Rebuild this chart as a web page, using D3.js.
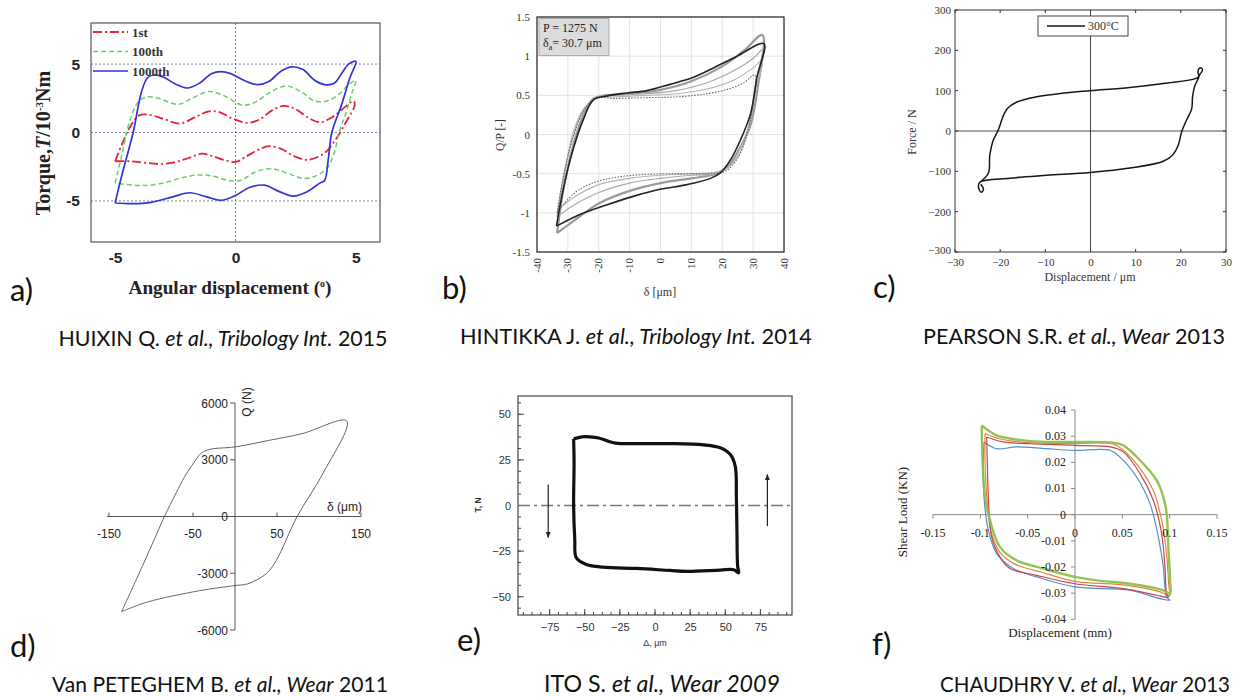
<!DOCTYPE html>
<html><head><meta charset="utf-8">
<script src="https://cdn.jsdelivr.net/npm/d3@7"></script>
<style>body{margin:0;background:#fff}</style>
</head><body><svg id="c" width="1242" height="697"></svg>
<script>
// ---------------- DATA ----------------
// a) torque vs angular displacement
const aXTicks = [-5, 0, 5];
const aYTicks = [-5, 0, 5];
const aLegend = ["1st", "100th", "1000th"];
const a1st = [[-5,-2.1],[-4.7,-0.8],[-4.35,0.5],[-4.0,1.25],[-3.6,1.3],[-3.0,1.0],[-2.3,0.65],[-1.7,1.1],[-1.1,1.55],[-0.7,1.5],[-0.1,1.0],[0.5,0.7],[1.0,0.95],[1.5,1.6],[2.0,1.95],[2.5,1.7],[3.0,1.1],[3.5,0.75],[4.0,1.1],[4.5,1.8],[4.9,2.3],
  [4.95,2.0],[4.6,0.8],[4.2,-0.4],[3.7,-1.5],[3.0,-2.0],[2.4,-1.7],[1.9,-1.2],[1.4,-1.0],[0.9,-1.3],[0.4,-1.8],[0,-2.15],[-0.5,-2.0],[-1.0,-1.7],[-1.4,-1.55],[-2.0,-1.9],[-2.6,-2.2],[-3.2,-2.3],[-3.8,-2.2],[-4.4,-2.1],[-5,-2.1]];
const a100th = [[-5,-3.7],[-4.7,-1.5],[-4.4,0.8],[-4.05,2.2],[-3.7,2.6],[-3.2,2.5],[-2.4,2.05],[-1.8,2.5],[-1.1,3.0],[-0.5,2.7],[0.3,2.0],[0.8,2.2],[1.5,3.0],[2.1,3.4],[2.7,3.0],[3.3,2.3],[3.8,2.3],[4.3,2.8],[4.7,3.5],[5.0,3.8],
  [4.85,3.0],[4.6,1.5],[4.3,0],[4.1,-1.5],[3.8,-2.6],[3.3,-3.2],[2.8,-3.35],[2.2,-3.0],[1.5,-2.65],[0.8,-2.9],[0.2,-3.5],[-0.3,-3.5],[-0.9,-3.2],[-1.5,-3.1],[-2.2,-3.3],[-2.8,-3.6],[-3.5,-3.85],[-4.2,-3.85],[-5,-3.7]];
const a1000th = [[-5,-5.15],[-4.7,-3],[-4.25,0],[-3.9,3.0],[-3.65,4.0],[-3.4,4.2],[-3.0,4.05],[-2.5,3.55],[-2.0,3.25],[-1.5,3.6],[-1.0,4.3],[-0.6,4.45],[-0.2,4.3],[0.3,3.85],[0.9,3.5],[1.4,3.75],[1.9,4.5],[2.35,4.8],[2.8,4.6],[3.3,3.8],[3.7,3.5],[4.1,3.6],[4.4,4.3],[4.7,5.0],[5.0,5.2],
  [4.75,4.0],[4.4,2.0],[4.0,0],[3.85,-2.0],[3.7,-3.5],[3.5,-3.7],[3.0,-4.3],[2.4,-4.65],[1.8,-4.3],[1.2,-3.85],[0.6,-4.0],[0,-4.6],[-0.6,-4.95],[-1.2,-4.7],[-1.9,-4.4],[-2.6,-4.7],[-3.5,-5.1],[-4.3,-5.2],[-5,-5.15]];

// b) Q/P vs delta
const bXTicks = [-40,-30,-20,-10,0,10,20,30,40];
const bYTicks = [-1.5,-1,-0.5,0,0.5,1,1.5];
const bBlack = [[-33.7,-1.17],[-31.5,-0.7],[-28.3,-0.19],[-25,0.19],[-21.8,0.44],[-17.5,0.49],[-11,0.53],[-4.4,0.56],[3.1,0.64],[10.7,0.73],[17.2,0.85],[24.8,1.0],[33.5,1.16],
  [31.3,0.74],[29.2,0.27],[25.9,-0.07],[22.7,-0.32],[19.4,-0.49],[16.2,-0.56],[8.6,-0.64],[-0.1,-0.7],[-8.8,-0.79],[-17.5,-0.9],[-26.1,-1.02],[-33.7,-1.17]];
const bGray1 = [[-33.5,-1.26],[-31,-0.6],[-28,-0.1],[-25,0.25],[-22,0.45],[-18,0.5],[-10,0.52],[0,0.57],[10,0.68],[20,0.87],[27,1.07],[33,1.27],
  [31.5,0.6],[29,0.1],[26,-0.15],[22,-0.4],[18,-0.5],[10,-0.56],[0,-0.62],[-10,-0.72],[-20,-0.88],[-28,-1.1],[-33.5,-1.26]];
const bGray2 = [[-33.5,-1.05],[-31.5,-0.55],[-28.5,-0.05],[-25,0.3],[-21,0.47],[-15,0.5],[-5,0.52],[5,0.56],[15,0.66],[24,0.82],[30,0.97],[33,1.08],
  [31,0.7],[28.5,0.1],[25.5,-0.2],[22,-0.42],[18,-0.5],[10,-0.52],[0,-0.56],[-10,-0.62],[-20,-0.74],[-28,-0.9],[-33.5,-1.05]];
const bGray3 = [[-33,-0.95],[-31,-0.5],[-28.5,0],[-25,0.32],[-21,0.47],[-15,0.48],[-5,0.5],[5,0.52],[15,0.58],[24,0.7],[30,0.85],[33,0.95],
  [31,0.6],[28.5,0.05],[25.5,-0.25],[22,-0.42],[18,-0.48],[10,-0.5],[0,-0.52],[-10,-0.56],[-20,-0.64],[-28,-0.8],[-33,-0.95]];
const bDotted = [[-33.5,-1.0],[-31,-0.45],[-28,0],[-25,0.3],[-21,0.46],[-15,0.46],[-5,0.47],[5,0.48],[15,0.52],[22,0.58],[27,0.66],[30.5,0.76],
  [30,0.4],[28,0],[25,-0.3],[21,-0.47],[15,-0.5],[5,-0.5],[-5,-0.51],[-15,-0.55],[-22,-0.62],[-28,-0.75],[-33.5,-1.0]];

// c) force vs displacement 300°C
const cXTicks = [-30,-20,-10,0,10,20,30];
const cYTicks = [-300,-200,-100,0,100,200,300];
const cLoop = [[-24.5,-127],[-22.6,-104],[-22.3,-60],[-21.6,-25],[-20.4,3],[-19.3,38],[-18.4,56],[-16.3,72],[-11.9,85],[-6,94],[-0.1,100],[8.7,108],[16.1,118],[23.5,131],[24.2,140],[24.8,152],[24.3,157],[23.8,148],[24.0,135],
  [23.1,112],[22.6,85],[22.4,55],[21.3,28],[20.2,-1],[19.4,-36],[18.3,-58],[16.1,-75],[8.7,-92],[-0.1,-103],[-9.7,-110],[-17.8,-117],[-24.5,-127],[-24.8,-140],[-24.2,-152],[-23.7,-145],[-24.3,-132]];

// d) Q vs delta
const dXTicks = [-150,-50,50,150];
const dYTicks = [-6000,-3000,0,3000,6000];
const dLoop = [[-135,-5030],[-110,-2600],[-95,-1100],[-84,0],[-70,1250],[-60,2100],[-52,2650],[-40,3350],[-30,3550],[0,3680],[40,4020],[80,4380],[133,5050],
  [105,2300],[74,0],[49,-2330],[37,-3030],[15,-3560],[0,-3650],[-42,-3920],[-105,-4530],[-135,-5030]];

// e) T vs Delta
const eXTicks = [-75,-50,-25,0,25,50,75];
const eYTicks = [-50,-25,0,25,50];
const eLoop = [[-57.9,36.5],[-52,37.6],[-46.4,37.6],[-40,37.0],[-34,35.4],[-28,34.2],[-13.1,33.9],[10.7,33.9],[34.5,33.2],[46.4,31.6],[53.6,27.9],[57.1,21.5],[57.9,5.1],[58.3,-13.1],[58.8,-33.2],[59.5,-36.9],
  [56,-35.2],[46.4,-35.4],[22.6,-36.1],[10.7,-35.6],[-13.1,-34.5],[-36.9,-33.8],[-48.8,-32.3],[-56,-28.6],[-57.1,-18.6],[-57.9,-0.4],[-57.6,23.4],[-57.9,36.5]];
const eArrows = [[-76, 11.5, -17.5], [80, -11.3, 17]];

// f) shear load vs displacement
const fXTicks = [-0.15,-0.1,-0.05,0,0.05,0.1,0.15];
const fYTicks = [-0.04,-0.03,-0.02,-0.01,0,0.01,0.02,0.03,0.04];
const fBlue = [[-0.0961,0.0278],[-0.0827,0.0252],[-0.0616,0.0259],[-0.03,0.0252],[0,0.0246],[0.037,0.0246],[0.0475,0.022],[0.0651,0.0144],[0.0792,0.0042],[0.088,-0.0085],[0.0933,-0.02],[0.0968,-0.0315],[0.1004,-0.0327],
  [0.0898,-0.0321],[0.058,-0.0289],[0,-0.0276],[-0.0405,-0.0238],[-0.0651,-0.0206],[-0.0827,-0.0149],[-0.0915,-0.006],[-0.0961,0.0068],[-0.0968,0.0195],[-0.0961,0.0278]];
const fRed = [[-0.0933,0.0297],[-0.0757,0.0278],[-0.0475,0.0271],[0,0.0265],[0.037,0.0259],[0.051,0.024],[0.0687,0.0157],[0.0827,0.0055],[0.0915,-0.0073],[0.095,-0.02],[0.0968,-0.0302],[0.0986,-0.0315],
  [0.0863,-0.0308],[0.051,-0.0283],[0,-0.0264],[-0.0405,-0.0232],[-0.0687,-0.0206],[-0.0792,-0.0162],[-0.088,-0.0085],[-0.0915,0.0068],[-0.0926,0.0195],[-0.0933,0.0297]];
const fOrange = [[-0.095,0.031],[-0.08,0.029],[-0.05,0.0275],[0,0.0272],[0.04,0.027],[0.05,0.025],[0.068,0.018],[0.083,0.009],[0.092,-0.003],[0.097,-0.016],[0.099,-0.027],[0.1,-0.031],
  [0.09,-0.0295],[0.055,-0.027],[0,-0.0255],[-0.035,-0.022],[-0.063,-0.019],[-0.08,-0.014],[-0.089,-0.006],[-0.093,0.006],[-0.095,0.02],[-0.095,0.031]];
const fGreen = [[-0.0986,0.0341],[-0.0827,0.0303],[-0.0546,0.0284],[-0.03,0.0278],[0,0.0278],[0.0405,0.0275],[0.051,0.0265],[0.0687,0.0208],[0.0863,0.0131],[0.0933,0.0068],[0.0968,0.0004],[0.0986,-0.0124],[0.1004,-0.0251],[0.1004,-0.0302],
  [0.0933,-0.0289],[0.058,-0.0264],[0.0229,-0.0251],[0,-0.0238],[-0.0335,-0.0206],[-0.0616,-0.0175],[-0.0792,-0.0124],[-0.0898,-0.0022],[-0.0951,0.0068],[-0.0975,0.0195],[-0.0986,0.0341]];

// captions: [normal, italic, normal]
const captions = [
  ["HUIXIN Q. ", "et al., Tribology Int.", " 2015"],
  ["HINTIKKA J. ", "et al., Tribology Int.", " 2014"],
  ["PEARSON S.R. ", "et al., Wear", " 2013"],
  ["Van PETEGHEM B. ", "et al., Wear", " 2011"],
  ["ITO S. ", "et al., Wear 2009", ""],
  ["CHAUDHRY V. ", "et al., Wear", " 2013"]
];
const panelLetters = ["a)", "b)", "c)", "d)", "e)", "f)"];

// ---------------- DRAW ----------------
const svg = d3.select("#c");
svg.append("rect").attr("width",1242).attr("height",697).attr("fill","#fff");
const defs = svg.append("defs");
defs.append("marker").attr("id","arr").attr("viewBox","0 0 10 10").attr("refX",9).attr("refY",5)
  .attr("markerWidth",5).attr("markerHeight",6).attr("orient","auto")
  .append("path").attr("d","M0,1 L10,5 L0,9 Z").attr("fill","#222");

const CR = d3.curveCatmullRom.alpha(0.5);
const mkLine = (sx, sy) => d3.line().x(d => sx(d[0])).y(d => sy(d[1])).curve(CR);
const SERIF = "'Liberation Serif','Times New Roman',serif";
const SANS = "'Liberation Sans',Arial,sans-serif";
const CAL = "Lato,'Open Sans',sans-serif";
const hy = d => String(d);
const um = d => d < 0 ? "\u2212" + Math.abs(d) : String(d);
function fitWidth(t, w) {
  const fs = parseFloat(t.attr("font-size"));
  const len = t.node().getComputedTextLength();
  t.attr("font-size", fs * w / len);
}

function styleAxis(g, fam, size, weight, color) {
  g.attr("font-family", fam).attr("font-size", size).attr("font-weight", weight || "normal");
  g.selectAll("text").attr("fill", color || "#222");
  g.select(".domain").remove();
}

// ===== a =====
{
  const x = d3.scaleLinear().domain([-6,6]).range([91,380]);
  const y = d3.scaleLinear().domain([-8,8]).range([242,23]);
  const g = svg.append("g");
  g.selectAll(".gh").data(aYTicks).join("line")
    .attr("x1",x(-6)).attr("x2",x(6)).attr("y1",d=>y(d)).attr("y2",d=>y(d))
    .attr("stroke","#6d6da8").attr("stroke-width",0.9).attr("stroke-dasharray","2,2");
  g.append("line").attr("x1",x(0)).attr("x2",x(0)).attr("y1",y(8)).attr("y2",y(-8))
    .attr("stroke","#6d6d88").attr("stroke-width",0.9).attr("stroke-dasharray","2,2");
  const series = [
    {d:a1st, c:"#e3223c", dash:"9,3,2,3", w:1.8},
    {d:a100th, c:"#66d066", dash:"5,3", w:1.5},
    {d:a1000th, c:"#3434d6", dash:null, w:1.7}
  ];
  const ln = mkLine(x,y);
  g.selectAll(".s").data(series).join("path").attr("d",s=>ln(s.d)).attr("fill","none")
    .attr("stroke",s=>s.c).attr("stroke-width",s=>s.w).attr("stroke-dasharray",s=>s.dash);
  g.append("rect").attr("x",x(-6)).attr("y",y(8)).attr("width",x(6)-x(-6)).attr("height",y(-8)-y(8))
    .attr("fill","none").attr("stroke","#555").attr("stroke-width",1.2);
  // legend
  const lg = g.selectAll(".lg").data(series).join("g").attr("transform",(s,i)=>`translate(93,${32+i*19.5})`);
  lg.append("line").attr("x1",0).attr("x2",35).attr("stroke",s=>s.c).attr("stroke-width",s=>s.w).attr("stroke-dasharray",s=>s.dash);
  lg.append("text").attr("x",39).attr("y",4.5).text((s,i)=>aLegend[i]).attr("font-family",SERIF)
    .attr("font-weight","bold").attr("font-size",13).attr("fill","#333");
  g.append("g").attr("transform",`translate(${x(-6)},0)`)
    .call(d3.axisLeft(y).tickValues(aYTicks).tickSize(0).tickPadding(11).tickFormat(hy))
    .call(s=>styleAxis(s,SANS,15.5,"bold","#222"));
  g.append("g").attr("transform",`translate(0,${y(-8)})`)
    .call(d3.axisBottom(x).tickValues(aXTicks).tickSize(0).tickPadding(10).tickFormat(hy))
    .call(s=>styleAxis(s,SANS,15.5,"bold","#222"));
  const xt = g.append("text").attr("x",230).attr("y",294).attr("text-anchor","middle")
    .attr("font-family",SERIF).attr("font-weight","bold").attr("font-size",16).attr("fill","#222");
  xt.append("tspan").text("Angular displacement (");
  xt.append("tspan").attr("dy",-7).attr("font-size",10).text("o");
  xt.append("tspan").attr("dy",7).text(")");
  fitWidth(xt, 204);
  const yt = g.append("text").attr("transform","translate(50,143) rotate(-90)").attr("text-anchor","middle")
    .attr("font-family",SERIF).attr("font-weight","bold").attr("font-size",16).attr("fill","#222");
  yt.append("tspan").text("Torque,");
  yt.append("tspan").attr("font-style","italic").text("T");
  yt.append("tspan").text("/10");
  yt.append("tspan").attr("dy",-7).attr("font-size",11).text("-3");
  yt.append("tspan").attr("dy",7).text("Nm");
  fitWidth(yt, 147);
}

// ===== b =====
{
  const x = d3.scaleLinear().domain([-40,40]).range([537,784]);
  const y = d3.scaleLinear().domain([-1.5,1.5]).range([252,17]);
  const g = svg.append("g");
  g.selectAll(".gv").data(bXTicks).join("line").attr("x1",d=>x(d)).attr("x2",d=>x(d)).attr("y1",y(1.5)).attr("y2",y(-1.5))
    .attr("stroke","#e4e4e4").attr("stroke-width",1);
  g.selectAll(".gh").data(bYTicks).join("line").attr("y1",d=>y(d)).attr("y2",d=>y(d)).attr("x1",x(-40)).attr("x2",x(40))
    .attr("stroke","#e4e4e4").attr("stroke-width",1);
  const ln = mkLine(x,y);
  [[bGray1,"#9a9a9a",2.2],[bGray2,"#a8a8a8",1.2],[bGray3,"#b4b4b4",1.1]].forEach(([d,c,w])=>{
    g.append("path").attr("d",ln(d)).attr("fill","none").attr("stroke",c).attr("stroke-width",w);
  });
  g.append("path").attr("d",ln(bDotted)).attr("fill","none").attr("stroke","#666").attr("stroke-width",1.1).attr("stroke-dasharray","1.5,1.5");
  g.append("path").attr("d",ln(bBlack)).attr("fill","none").attr("stroke","#222").attr("stroke-width",1.6);
  g.append("rect").attr("x",x(-40)).attr("y",y(1.5)).attr("width",x(40)-x(-40)).attr("height",y(-1.5)-y(1.5))
    .attr("fill","none").attr("stroke","#333").attr("stroke-width",1.3);
  g.append("g").attr("transform",`translate(${x(-40)},0)`)
    .call(d3.axisLeft(y).tickValues(bYTicks).tickSize(0).tickPadding(7).tickFormat(hy))
    .call(s=>styleAxis(s,SERIF,11,"normal","#333"));
  g.selectAll(".xl").data(bXTicks).join("text").attr("transform",d=>`translate(${x(d)+3.5},${y(-1.5)+6}) rotate(-90)`)
    .attr("text-anchor","end").attr("font-family",SERIF).attr("font-size",11).attr("fill","#333").text(hy);
  g.append("text").attr("x",660).attr("y",296).attr("text-anchor","middle").attr("font-family",SERIF).attr("font-size",12).attr("fill","#333").text("\u03b4 [\u03bcm]");
  g.append("text").attr("transform","translate(504,135) rotate(-90)").attr("text-anchor","middle").attr("font-family",SERIF).attr("font-size",11.5).attr("fill","#333").text("Q/P [-]");
  g.append("rect").attr("x",539).attr("y",18.5).attr("width",70).attr("height",37).attr("fill","#dcdcdc").attr("stroke","#aaa");
  g.append("text").attr("x",543).attr("y",31.5).attr("font-family",SERIF).attr("font-size",12).attr("fill","#222").text("P = 1275 N");
  const t2 = g.append("text").attr("x",543).attr("y",47).attr("font-family",SERIF).attr("font-size",12).attr("fill","#222");
  t2.append("tspan").text("\u03b4");
  t2.append("tspan").attr("dy",3).attr("font-size",8).text("a");
  t2.append("tspan").attr("dy",-3).text("= 30.7 \u03bcm");
}

// ===== c =====
{
  const x = d3.scaleLinear().domain([-30,30]).range([955,1226]);
  const y = d3.scaleLinear().domain([-300,300]).range([252,10]);
  const g = svg.append("g");
  g.append("line").attr("x1",x(-30)).attr("x2",x(30)).attr("y1",y(0)).attr("y2",y(0)).attr("stroke","#333").attr("stroke-width",0.9);
  g.append("line").attr("x1",x(0)).attr("x2",x(0)).attr("y1",y(300)).attr("y2",y(-300)).attr("stroke","#333").attr("stroke-width",0.9);
  g.append("path").attr("d",mkLine(x,y)(cLoop)).attr("fill","none").attr("stroke","#161616").attr("stroke-width",1.5);
  g.append("rect").attr("x",x(-30)).attr("y",y(300)).attr("width",x(30)-x(-30)).attr("height",y(-300)-y(300))
    .attr("fill","none").attr("stroke","#333").attr("stroke-width",1);
  g.selectAll(".tb").data(cXTicks).join("line").attr("x1",d=>x(d)).attr("x2",d=>x(d)).attr("y1",y(-300)).attr("y2",y(-300)-3).attr("stroke","#333");
  g.selectAll(".tt").data(cXTicks).join("line").attr("x1",d=>x(d)).attr("x2",d=>x(d)).attr("y1",y(300)).attr("y2",y(300)+3).attr("stroke","#333");
  g.selectAll(".tl").data(cYTicks).join("line").attr("y1",d=>y(d)).attr("y2",d=>y(d)).attr("x1",x(-30)).attr("x2",x(-30)+3).attr("stroke","#333");
  g.selectAll(".tr").data(cYTicks).join("line").attr("y1",d=>y(d)).attr("y2",d=>y(d)).attr("x1",x(30)).attr("x2",x(30)-3).attr("stroke","#333");
  g.append("g").attr("transform",`translate(${x(-30)},0)`)
    .call(d3.axisLeft(y).tickValues(cYTicks).tickSize(0).tickPadding(4).tickFormat(um))
    .call(s=>styleAxis(s,SERIF,11,"normal","#333"))
    .selectAll("text").attr("dy",d=>d===-300 ? "0.1em" : "0.32em");
  g.append("g").attr("transform",`translate(0,${y(-300)})`)
    .call(d3.axisBottom(x).tickValues(cXTicks).tickSize(0).tickPadding(6).tickFormat(um))
    .call(s=>styleAxis(s,SERIF,11,"normal","#333"));
  g.append("text").attr("x",1090).attr("y",281).attr("text-anchor","middle").attr("font-family",SERIF).attr("font-size",12).attr("fill","#333").text("Displacement / \u03bcm");
  g.append("text").attr("transform","translate(916,132) rotate(-90)").attr("text-anchor","middle").attr("font-family",SERIF).attr("font-size",12).attr("fill","#333").text("Force / N");
  g.append("rect").attr("x",1038).attr("y",16).attr("width",90).attr("height",20).attr("fill","#fff").attr("stroke","#444");
  g.append("line").attr("x1",1047).attr("x2",1085).attr("y1",26).attr("y2",26).attr("stroke","#161616").attr("stroke-width",1.5);
  g.append("text").attr("x",1088).attr("y",30).attr("font-family",SERIF).attr("font-size",12).attr("fill","#333").text("300\u00b0C");
}

// ===== d =====
{
  const x = d3.scaleLinear().domain([-150,150]).range([109,361]);
  const y = d3.scaleLinear().domain([-6000,6000]).range([630,403]);
  const g = svg.append("g");
  g.append("line").attr("x1",x(-150)-2).attr("x2",x(150)).attr("y1",y(0)).attr("y2",y(0)).attr("stroke","#555");
  g.append("line").attr("x1",x(0)).attr("x2",x(0)).attr("y1",y(6000)).attr("y2",y(-6000)).attr("stroke","#555");
  g.selectAll(".tx").data(dXTicks).join("line").attr("x1",d=>x(d)).attr("x2",d=>x(d)).attr("y1",y(0)).attr("y2",y(0)-4).attr("stroke","#555");
  g.selectAll(".ty").data(dYTicks).join("line").attr("y1",d=>y(d)).attr("y2",d=>y(d)).attr("x1",x(0)).attr("x2",x(0)-5).attr("stroke","#555");
  g.selectAll(".lx").data(dXTicks).join("text").attr("x",d=>x(d)).attr("y",y(0)+21).attr("text-anchor","middle")
    .attr("font-family",SANS).attr("font-size",12).attr("fill","#222").text(hy);
  g.selectAll(".ly").data(dYTicks).join("text").attr("x",x(0)-7).attr("y",d=>y(d)+4.5).attr("text-anchor","end")
    .attr("font-family",SANS).attr("font-size",12).attr("fill","#222").text(hy);
  g.append("path").attr("d",mkLine(x,y)(dLoop)).attr("fill","none").attr("stroke","#666").attr("stroke-width",1);
  g.append("text").attr("transform","translate(251,402) rotate(-90)").attr("text-anchor","middle").attr("font-family",SANS).attr("font-size",12).attr("fill","#222").text("Q (N)");
  g.append("text").attr("x",362).attr("y",511).attr("text-anchor","end").attr("font-family",SANS).attr("font-size",12).attr("fill","#222").text("\u03b4 (\u03bcm)");
}

// ===== e =====
{
  const x = d3.scaleLinear().domain([-97.5,97.5]).range([518,792]);
  const y = d3.scaleLinear().domain([-60,60]).range([615,396]);
  const g = svg.append("g");
  const minorX = d3.range(-93.75, 95, 6.25);
  const minorY = d3.range(-56.25, 60, 6.25);
  g.selectAll(".mx").data(minorX).join("line").attr("x1",d=>x(d)).attr("x2",d=>x(d)).attr("y1",y(-60)).attr("y2",y(-60)-3).attr("stroke","#444");
  g.selectAll(".my").data(minorY).join("line").attr("y1",d=>y(d)).attr("y2",d=>y(d)).attr("x1",x(-97.5)).attr("x2",x(-97.5)+3).attr("stroke","#444");
  g.selectAll(".Mx").data(eXTicks).join("line").attr("x1",d=>x(d)).attr("x2",d=>x(d)).attr("y1",y(-60)).attr("y2",y(-60)-6).attr("stroke","#444");
  g.selectAll(".My").data(eYTicks).join("line").attr("y1",d=>y(d)).attr("y2",d=>y(d)).attr("x1",x(-97.5)).attr("x2",x(-97.5)+6).attr("stroke","#444");
  g.append("line").attr("x1",x(-97.5)).attr("x2",x(97.5)).attr("y1",y(0)).attr("y2",y(0))
    .attr("stroke","#777").attr("stroke-width",1.6).attr("stroke-dasharray","12,4,3,4");
  g.selectAll(".ar").data(eArrows).join("line").attr("x1",d=>x(d[0])).attr("x2",d=>x(d[0])).attr("y1",d=>y(d[1])).attr("y2",d=>y(d[2]))
    .attr("stroke","#222").attr("stroke-width",1.2).attr("marker-end","url(#arr)");
  g.append("path").attr("d",mkLine(x,y)(eLoop)).attr("fill","none").attr("stroke","#111").attr("stroke-width",3.2).attr("stroke-linejoin","round");
  g.append("rect").attr("x",x(-97.5)).attr("y",y(60)).attr("width",x(97.5)-x(-97.5)).attr("height",y(-60)-y(60))
    .attr("fill","none").attr("stroke","#444").attr("stroke-width",1.2);
  g.append("g").attr("transform",`translate(${x(-97.5)},0)`)
    .call(d3.axisLeft(y).tickValues(eYTicks).tickSize(0).tickPadding(7).tickFormat(um))
    .call(s=>styleAxis(s,SANS,11,"normal","#333"));
  g.append("g").attr("transform",`translate(0,${y(-60)})`)
    .call(d3.axisBottom(x).tickValues(eXTicks).tickSize(0).tickPadding(8).tickFormat(um))
    .call(s=>styleAxis(s,SANS,11,"normal","#333"));
  g.append("text").attr("x",655).attr("y",646).attr("text-anchor","middle").attr("font-family",SANS).attr("font-size",9).attr("fill","#333").text("\u0394, \u03bcm");
  g.append("text").attr("transform","translate(481,505) rotate(-90)").attr("text-anchor","middle").attr("font-family",SANS).attr("font-weight","bold").attr("font-size",8.5).attr("fill","#333").text("T, N");
}

// ===== f =====
{
  const x = d3.scaleLinear().domain([-0.15,0.15]).range([933,1217]);
  const y = d3.scaleLinear().domain([-0.04,0.04]).range([619.3,410]);
  const g = svg.append("g");
  g.append("line").attr("x1",x(-0.15)).attr("x2",x(0.15)).attr("y1",y(0)).attr("y2",y(0)).attr("stroke","#888");
  g.append("line").attr("x1",x(0)).attr("x2",x(0)).attr("y1",y(0.04)).attr("y2",y(-0.04)).attr("stroke","#888");
  g.selectAll(".tx").data(fXTicks).join("line").attr("x1",d=>x(d)).attr("x2",d=>x(d)).attr("y1",y(0)).attr("y2",y(0)+4).attr("stroke","#888");
  g.selectAll(".ty").data(fYTicks).join("line").attr("y1",d=>y(d)).attr("y2",d=>y(d)).attr("x1",x(0)).attr("x2",x(0)-4).attr("stroke","#888");
  const ln = mkLine(x,y);
  [[fBlue,"#4a86c8",1.2],[fOrange,"#d8843a",1.2],[fRed,"#c83a3a",1.2],[fGreen,"#8cc04a",2.4]].forEach(([d,c,w])=>{
    g.append("path").attr("d",ln(d)).attr("fill","none").attr("stroke",c).attr("stroke-width",w).attr("stroke-opacity",0.95);
  });
  g.selectAll(".lx").data(fXTicks).join("text").attr("x",d=>x(d)).attr("y",y(0)+22).attr("text-anchor","middle")
    .attr("font-family",SERIF).attr("font-size",12).attr("fill","#222").text(hy);
  g.selectAll(".ly").data(fYTicks).join("text").attr("x",x(0)-9).attr("y",d=>y(d)+4).attr("text-anchor","end")
    .attr("font-family",SERIF).attr("font-size",12).attr("fill","#222").text(hy);
  g.append("text").attr("x",1060).attr("y",637).attr("text-anchor","middle").attr("font-family",SERIF).attr("font-size",13).attr("fill","#222").text("Displacement (mm)");
  g.append("text").attr("transform","translate(907,512) rotate(-90)").attr("text-anchor","middle").attr("font-family",SERIF).attr("font-size",13).attr("fill","#222").text("Shear Load (KN)");
}

// ===== captions & letters =====
const capLayout = [
  {cx:223, y:346, w:329}, {cx:636, y:344, w:352}, {cx:1074, y:344, w:302},
  {cx:220, y:692, w:336}, {cx:662, y:692, w:236}, {cx:1085, y:692, w:290}
];
captions.forEach((parts, i) => {
  const L = capLayout[i];
  const t = svg.append("text").attr("x",L.cx).attr("y",L.y).attr("text-anchor","middle")
    .attr("font-family",CAL).attr("font-size",20).attr("fill","#111");
  parts.forEach((p, j) => { if (p) t.append("tspan").attr("font-style", j===1 ? "italic" : "normal").text(p); });
  fitWidth(t, L.w);
});
const letLayout = [[10,301],[442,299],[873,298],[10,657],[457,651],[872,655]];
panelLetters.forEach((s,i) => {
  svg.append("text").attr("x",letLayout[i][0]).attr("y",letLayout[i][1]).attr("font-family",CAL)
    .attr("font-size",31).attr("fill","#111").text(s);
});
</script></body></html>
